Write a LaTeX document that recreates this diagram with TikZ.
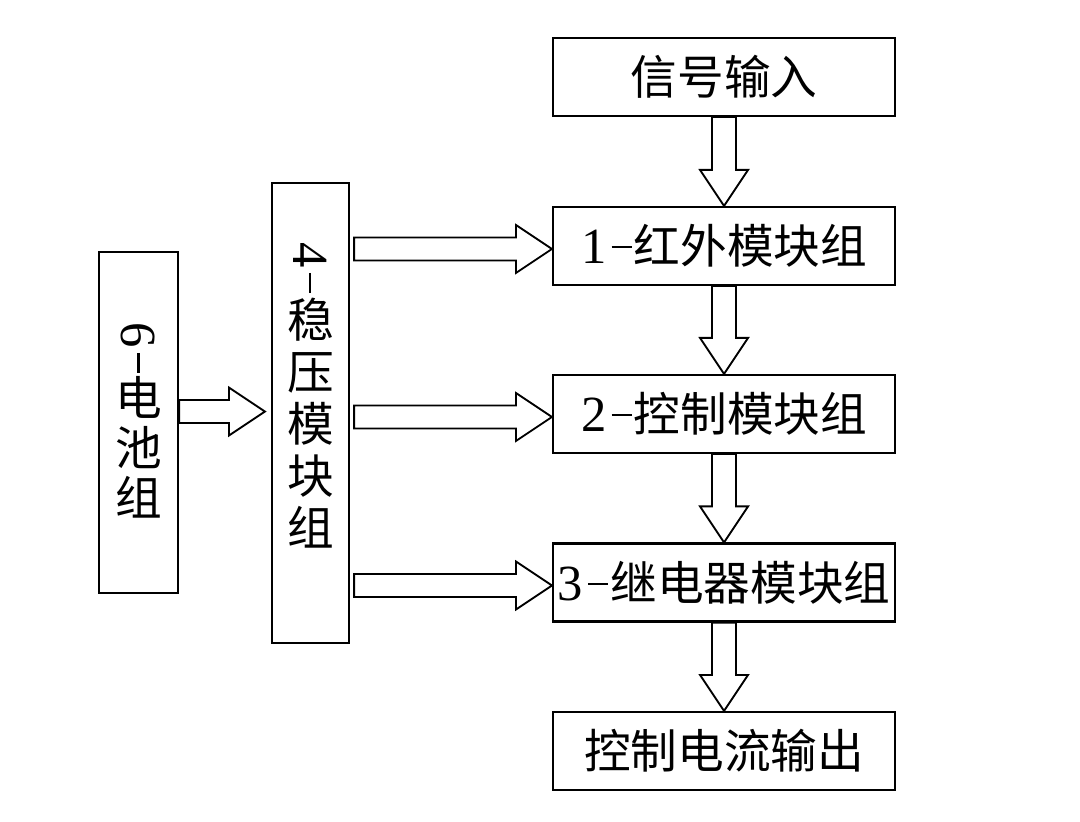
\documentclass[tikz,border=0pt]{standalone}
\usepackage{graphicx}
\usepackage{fontspec}
\setmainfont{Noto Sans CJK SC}
\newfontfamily\latinf{Liberation Serif}
\usetikzlibrary{calc}
\newcommand\lt[1]{{\latinf\fontsize{38}{40}\selectfont #1}}
\newcommand\dsh{\kern4pt\rule[11.5pt]{15pt}{1.7pt}\kern1.5pt}
\newcommand\vdown[2]{%
  \draw[hollow] let \p1=(#1.south), \p2=(#2.north) in
   (\x1-9pt,\y1) -- (\x1-9pt,\y2+27pt) -- (\x1-18pt,\y2+27pt) -- (\x1,\y2)
   -- (\x1+18pt,\y2+27pt) -- (\x1+9pt,\y2+27pt) -- (\x1+9pt,\y1) -- cycle;}
% #1 from, #2 to, #3 tail gap, #4 tip gap, #5 y shift relative to target west
\newcommand\harrow[5]{%
  \draw[hollow] let \p1=(#1.east), \p2=($(#2.west)+(0,#5)$) in
   (\x1+#3,\y2+8.6pt) -- (\x2+#4-27pt,\y2+8.6pt) -- (\x2+#4-27pt,\y2+18pt) -- (\x2+#4,\y2)
   -- (\x2+#4-27pt,\y2-18pt) -- (\x2+#4-27pt,\y2-8.6pt) -- (\x1+#3,\y2-8.6pt) -- cycle;}
\begin{document}
\begin{tikzpicture}[x=0.75pt,y=0.75pt,
  box/.style={draw, line width=1.6pt, inner sep=0pt, minimum width=256.5pt,
    minimum height=58.5pt, font=\fontsize{35}{40}\selectfont},
  vbox/.style={draw, line width=1.6pt, inner sep=0pt},
  vtext/.style={align=center, inner sep=0pt},
  hollow/.style={draw, line width=1.4pt, fill=white, line join=miter}]
\useasboundingbox (0,0) rectangle (1080,821);
\node[box] (sig) at (724,744) {信号输入};
\node[box] (ir) at (724,575) {\lt{1}\dsh 红外模块组};
\node[box] (ctl) at (724,407) {\lt{2}\dsh 控制模块组};
\node[box] (rly) at (724,238.5) {\lt{3}\dsh 继电器模块组};
\node[box] (out) at (724,70) {控制电流输出};
\node[vbox, minimum width=57.75pt, minimum height=345pt] (wy) at (310.5,408) {};
\node[vbox, minimum width=59.25pt, minimum height=255.75pt] (bat) at (138.5,398.5) {};
\node[vtext, font=\fontsize{35}{39}\selectfont] (wyt) at (310.5,426)
  {\rotatebox[origin=c]{-90}{\lt{4}\dsh}\\稳\\压\\模\\块\\组};
\node[vtext, font=\fontsize{35}{37.5}\selectfont] (batt) at (138.5,401)
  {\rotatebox[origin=c]{-90}{\lt{6}\dsh}\\电\\池\\组};
\vdown{sig}{ir}
\vdown{ir}{ctl}
\vdown{ctl}{rly}
\vdown{rly}{out}
\harrow{wy}{ir}{3pt}{0pt}{-2.25pt}
\harrow{wy}{ctl}{3pt}{0pt}{-2.25pt}
\harrow{wy}{rly}{3pt}{0pt}{-2.25pt}
\harrow{bat}{wy}{0pt}{-4.5pt}{1.1pt}
\end{tikzpicture}
\end{document}
